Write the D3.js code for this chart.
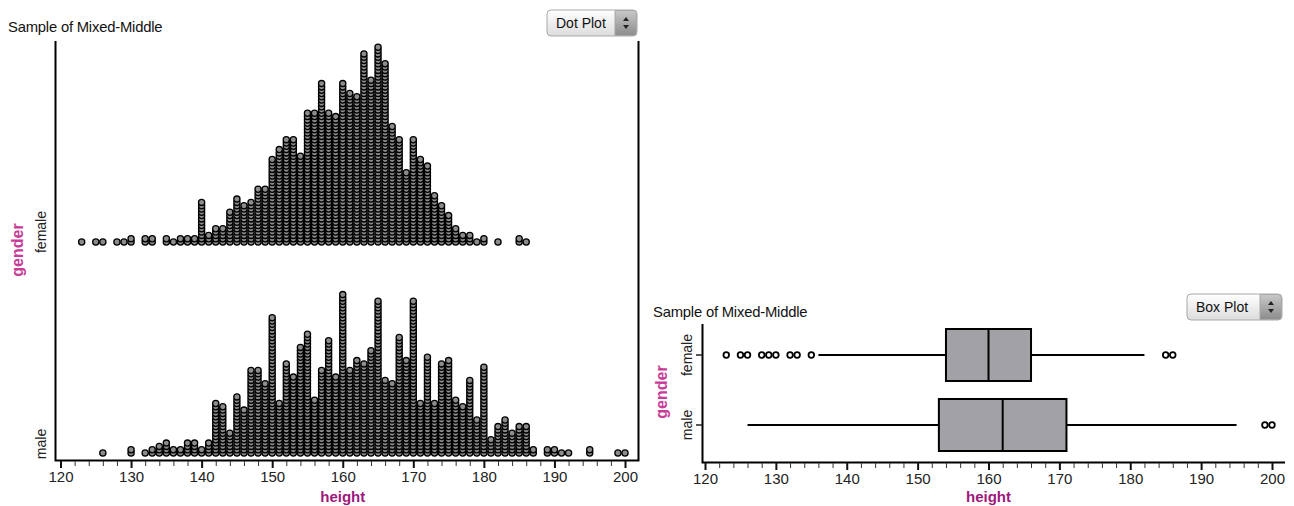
<!DOCTYPE html>
<html>
<head>
<meta charset="utf-8">
<script src="https://cdn.jsdelivr.net/npm/d3@7"></script>
<style>
  body { margin: 0; background: #fff; }
  text { font-family: "Liberation Sans", Arial, sans-serif; }
</style>
</head>
<body>
<div id="container"></div>
<script>
/* CONSTANTS AND GLOBALS */
const width = 1294;
const height = 506;

const genders = ["female", "male"];
const tickLabels = [120, 130, 140, 150, 160, 170, 180, 190, 200];

// [height, number of people]
const femaleDots = [
  [123, 1], [125, 1], [126, 1], [128, 1], [129, 1], [130, 2], [132, 2], [133, 2],
  [135, 2], [136, 1], [137, 2], [138, 2], [139, 2], [140, 13], [141, 3], [142, 5],
  [143, 5], [144, 10], [145, 14], [146, 12], [147, 13], [148, 17], [149, 17], [150, 26],
  [151, 29], [152, 32], [153, 32], [154, 27], [155, 40], [156, 40], [157, 49], [158, 40],
  [159, 39], [160, 49], [161, 46], [162, 45], [163, 58], [164, 50], [165, 60], [166, 55],
  [167, 36], [168, 32], [169, 22], [170, 32], [171, 26], [172, 24], [173, 15], [174, 12],
  [175, 9], [176, 5], [177, 3], [178, 3], [179, 1], [180, 2], [182, 1], [185, 2], [186, 1]
];

const maleDots = [
  [126, 1], [130, 2], [132, 1], [133, 2], [134, 3], [135, 4], [136, 2], [137, 2],
  [138, 4], [139, 4], [140, 2], [141, 4], [142, 16], [143, 15], [144, 7], [145, 18],
  [146, 14], [147, 26], [148, 26], [149, 22], [150, 42], [151, 16], [152, 28], [153, 24],
  [154, 33], [155, 37], [156, 17], [157, 26], [158, 35], [159, 24], [160, 49], [161, 26],
  [162, 29], [163, 28], [164, 32], [165, 47], [166, 23], [167, 22], [168, 36], [169, 29],
  [170, 47], [171, 16], [172, 30], [173, 16], [174, 28], [175, 29], [176, 17], [177, 15],
  [178, 23], [179, 11], [180, 27], [181, 5], [182, 9], [183, 11], [184, 7], [185, 9],
  [186, 9], [187, 2], [189, 2], [190, 2], [191, 1], [192, 1], [195, 2], [199, 1], [200, 1]
];

// box plot summaries: [gender, whiskerLow, q1, median, q3, whiskerHigh]
const boxStats = [
  ["female", 136, 154, 160, 166, 182],
  ["male", 126, 153, 162, 171, 195]
];
const femaleOutliers = [123, 125, 126, 128, 129, 130, 132, 133, 135, 185, 186];
const maleOutliers = [199, 200];

const labelColor = "#a0187c";
const genderColor = "#c83c98";

/* SVG */
const svg = d3.select("#container")
  .append("svg")
  .attr("width", width)
  .attr("height", height);

const defs = svg.append("defs");
const grad = defs.append("linearGradient").attr("id", "btn").attr("x1", 0).attr("x2", 0).attr("y1", 0).attr("y2", 1);
grad.append("stop").attr("offset", "0%").attr("stop-color", "#ffffff");
grad.append("stop").attr("offset", "100%").attr("stop-color", "#dcdcdc");
const grad2 = defs.append("linearGradient").attr("id", "btn2").attr("x1", 0).attr("x2", 0).attr("y1", 0).attr("y2", 1);
grad2.append("stop").attr("offset", "0%").attr("stop-color", "#c8c8c8");
grad2.append("stop").attr("offset", "100%").attr("stop-color", "#8c8c8c");

function dropdown(x, y, w, label) {
  const g = svg.append("g").attr("transform", `translate(${x},${y})`);
  g.append("rect").attr("width", w).attr("height", 26).attr("rx", 4)
    .attr("fill", "url(#btn)").attr("stroke", "#a8a8a8");
  g.append("path")
    .attr("d", `M${w - 22},0.5 H${w - 4} Q${w - 0.5},0.5 ${w - 0.5},4 V22 Q${w - 0.5},25.5 ${w - 4},25.5 H${w - 22} Z`)
    .attr("fill", "url(#btn2)").attr("stroke", "#a8a8a8");
  g.append("path").attr("d", `M${w - 14},11 l3,-4 l3,4 Z M${w - 14},15 l3,4 l3,-4 Z`).attr("fill", "#222");
  g.append("text").attr("x", 9).attr("y", 18).attr("font-size", 14).attr("fill", "#111").text(label);
}

function title(x, y) {
  svg.append("text").attr("x", x).attr("y", y).attr("font-size", 14.8).attr("fill", "#111")
    .attr("letter-spacing", -0.2)
    .text("Sample of Mixed-Middle");
}

function heightAxis(scale, yAxis) {
  const minor = d3.range(122, 200, 2).filter(v => v % 10 !== 0);
  const gMinor = svg.append("g").attr("transform", `translate(0,${yAxis})`)
    .call(d3.axisBottom(scale).tickValues(minor).tickSize(5).tickFormat(""));
  gMinor.select(".domain").remove();
  gMinor.selectAll("line").attr("stroke", "#333").attr("stroke-width", 1);

  const gMajor = svg.append("g").attr("transform", `translate(0,${yAxis})`)
    .call(d3.axisBottom(scale).tickValues(tickLabels).tickSize(7).tickPadding(3));
  gMajor.select(".domain").remove();
  gMajor.selectAll("line").attr("stroke", "#111").attr("stroke-width", 2);
  gMajor.selectAll("text").attr("font-size", 15).attr("fill", "#222")
    .attr("font-family", "Liberation Sans, Arial, sans-serif");

  svg.append("text").attr("x", (scale(120) + scale(200)) / 2).attr("y", 502)
    .attr("text-anchor", "middle").attr("font-size", 15).attr("font-weight", "bold")
    .attr("fill", labelColor).text("height");
}

function rotLabel(x, y, txt, opts = {}) {
  svg.append("text")
    .attr("transform", `translate(${x},${y}) rotate(-90)`)
    .attr("text-anchor", "middle")
    .attr("font-size", opts.size || 14)
    .attr("font-weight", opts.bold ? "bold" : "normal")
    .attr("fill", opts.color || "#222")
    .text(txt);
}

/* LEFT PANEL : DOT PLOT */
const xL = d3.scaleLinear().domain([120, 200]).range([60.5, 625]);
const baseL = d3.scaleOrdinal().domain(genders).range([242, 453]);
const stack = d3.scaleLinear().domain([0, 1]).range([0, 3.3]);

title(8, 32);
dropdown(547, 10, 90, "Dot Plot");

svg.append("path").attr("d", "M55.5,41 V460.5 H638.5 V41")
  .attr("fill", "none").attr("stroke", "#000").attr("stroke-width", 2);

heightAxis(xL, 461);

rotLabel(46, 232, "female");
rotLabel(46, 444, "male");
rotLabel(23, 250, "gender", { bold: true, size: 16, color: genderColor });

const dots = [];
[["female", femaleDots], ["male", maleDots]].forEach(([g, arr]) => {
  arr.forEach(([h, n]) => {
    for (let i = 0; i < n; i++) dots.push({ gender: g, h, i });
  });
});

svg.append("g").selectAll("circle")
  .data(dots)
  .join("circle")
  .attr("cx", d => xL(d.h))
  .attr("cy", d => baseL(d.gender) - stack(d.i))
  .attr("r", 3.1)
  .attr("fill", "#8c8c8c")
  .attr("stroke", "#000")
  .attr("stroke-width", 1.3);

/* RIGHT PANEL : BOX PLOT */
const xR = d3.scaleLinear().domain([120, 200]).range([705, 1272]);
const yR = d3.scaleBand().domain(genders).range([320, 460]).paddingInner(0.257).paddingOuter(0.1285);

title(653, 317);
dropdown(1187, 294, 95, "Box Plot");

svg.append("path").attr("d", "M702.5,324 V462.5 H1285")
  .attr("fill", "none").attr("stroke", "#000").attr("stroke-width", 2);

heightAxis(xR, 463);

genders.forEach(g => {
  const cy = yR(g) + yR.bandwidth() / 2;
  svg.append("line").attr("x1", 696).attr("x2", 702).attr("y1", cy).attr("y2", cy)
    .attr("stroke", "#222").attr("stroke-width", 1.5);
});
rotLabel(692, yR("female") + yR.bandwidth() / 2, "female");
rotLabel(692, yR("male") + yR.bandwidth() / 2, "male");
rotLabel(667, 392, "gender", { bold: true, size: 16, color: genderColor });

const boxes = svg.append("g").selectAll("g")
  .data(boxStats)
  .join("g");

boxes.append("line")
  .attr("x1", d => xR(d[1])).attr("x2", d => xR(d[2]))
  .attr("y1", d => yR(d[0]) + yR.bandwidth() / 2).attr("y2", d => yR(d[0]) + yR.bandwidth() / 2)
  .attr("stroke", "#000").attr("stroke-width", 2);
boxes.append("line")
  .attr("x1", d => xR(d[4])).attr("x2", d => xR(d[5]))
  .attr("y1", d => yR(d[0]) + yR.bandwidth() / 2).attr("y2", d => yR(d[0]) + yR.bandwidth() / 2)
  .attr("stroke", "#000").attr("stroke-width", 2);
boxes.append("rect")
  .attr("x", d => xR(d[2])).attr("width", d => xR(d[4]) - xR(d[2]))
  .attr("y", d => yR(d[0])).attr("height", yR.bandwidth())
  .attr("fill", "#a2a1a6").attr("stroke", "#000").attr("stroke-width", 2);
boxes.append("line")
  .attr("x1", d => xR(d[3])).attr("x2", d => xR(d[3]))
  .attr("y1", d => yR(d[0])).attr("y2", d => yR(d[0]) + yR.bandwidth())
  .attr("stroke", "#000").attr("stroke-width", 2);

const outliers = femaleOutliers.map(h => ({ gender: "female", h }))
  .concat(maleOutliers.map(h => ({ gender: "male", h })));

svg.append("g").selectAll("circle")
  .data(outliers)
  .join("circle")
  .attr("cx", d => xR(d.h))
  .attr("cy", d => yR(d.gender) + yR.bandwidth() / 2)
  .attr("r", 2.8)
  .attr("fill", "#fff")
  .attr("stroke", "#000")
  .attr("stroke-width", 1.8);
</script>
</body>
</html>
